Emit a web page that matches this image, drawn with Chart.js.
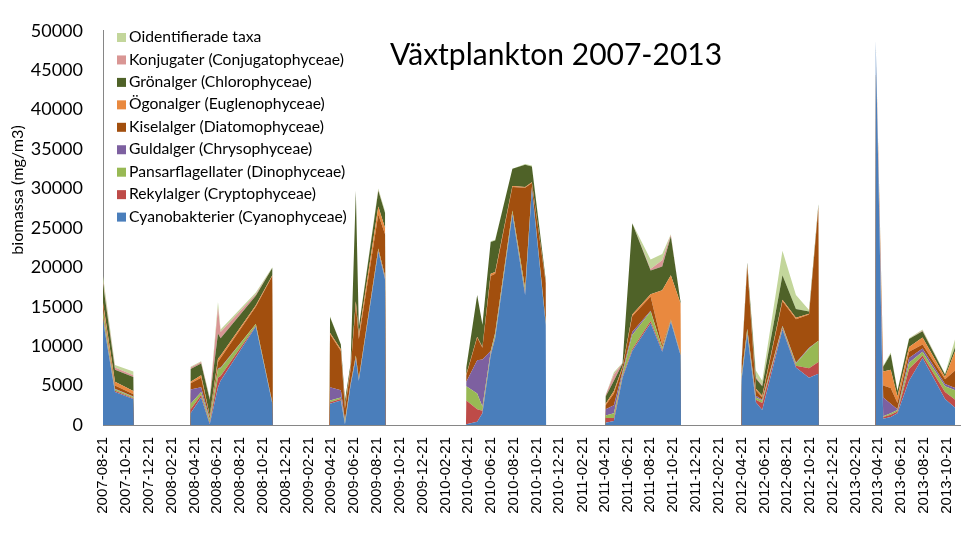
<!DOCTYPE html>
<html>
<head>
<meta charset="utf-8">
<script src="https://cdn.jsdelivr.net/npm/chart.js@4.4.0/dist/chart.umd.min.js"></script>
<style>
  html, body { margin: 0; padding: 0; background: #fff; }
</style>
</head>
<body>
<canvas id="chart" width="980" height="535"></canvas>
<script>
// sampling dates (zero rows close each season so the area drops to the baseline)
const sampleDates = [
  '2007-08-21','2007-09-22','2007-11-10','2007-11-11',
  '2008-04-10','2008-04-11','2008-05-09','2008-06-01','2008-06-23','2008-06-30','2008-10-02','2008-11-15','2008-11-16',
  '2009-04-17','2009-04-18','2009-05-17','2009-05-28','2009-06-12','2009-06-26','2009-07-04','2009-08-25','2009-09-12','2009-09-13',
  '2010-04-16','2010-04-17','2010-05-16','2010-05-30','2010-06-21','2010-07-03','2010-08-18','2010-09-21','2010-10-09','2010-11-15','2010-11-16',
  '2011-04-23','2011-04-24','2011-05-16','2011-06-08','2011-07-04','2011-08-22','2011-09-22','2011-10-15','2011-11-10','2011-11-11',
  '2012-04-20','2012-04-21','2012-05-06','2012-05-29','2012-06-15','2012-08-08','2012-09-13','2012-10-18','2012-11-12','2012-11-13',
  '2013-04-13','2013-04-14','2013-05-04','2013-05-24','2013-06-11','2013-07-12','2013-08-17','2013-10-16','2013-11-12'
];

// biomassa (mg/m3) per group, same order as sampleDates
const cyano = [
  13300,4200,3300,0,
  0,1500,3500,100,4800,5600,12500,2700,0,
  0,2700,3100,100,5000,8400,5600,22000,18500,0,
  0,100,400,1500,8800,11000,26700,16500,30000,12700,0,
  0,300,500,6000,9400,12900,9300,13100,8800,0,
  0,5800,11500,2900,1900,12100,7300,6000,6500,0,
  0,48800,800,1000,1500,5600,8500,3300,2200
];
const rekyl = [
  300,150,100,0,
  0,500,300,200,1200,600,100,100,0,
  0,200,200,100,100,200,150,200,200,0,
  0,3000,1600,300,200,200,200,300,100,100,0,
  0,600,400,200,200,300,200,100,100,0,
  0,200,200,300,900,200,200,1200,1500,0,
  0,100,200,300,200,1500,300,900,1000
];
const pansar = [
  800,200,150,0,
  0,700,400,400,1100,1000,200,100,0,
  0,200,200,300,100,200,150,200,200,0,
  0,1800,2000,500,300,400,300,500,100,200,0,
  0,300,600,300,1800,1200,300,100,100,0,
  0,300,400,300,300,200,300,2500,2700,0,
  0,100,100,200,200,800,500,700,1200
];
const guld = [
  100,50,50,0,
  0,1800,600,100,100,100,0,0,0,
  0,1700,900,100,50,0,0,0,0,0,
  0,600,4200,6000,100,100,0,0,0,0,0,
  0,800,1000,300,400,100,0,0,0,0,
  0,0,100,200,100,100,100,100,0,0,
  0,0,2400,1200,100,600,400,300,300
];
const kisel = [
  500,400,300,0,
  0,800,1200,300,800,1200,2200,16000,0,
  0,6700,5000,1500,1800,6500,5000,4300,5300,0,
  0,800,2900,1500,9500,7500,3000,12800,500,5000,0,
  0,500,1500,500,2000,1800,300,100,100,0,
  0,1500,7900,700,300,3100,5500,4200,16900,0,
  0,100,1500,2000,800,800,500,600,2200
];
const ogon = [
  500,500,400,0,
  0,200,300,100,400,300,200,100,0,
  0,200,200,300,200,400,500,1000,800,0,
  0,100,100,100,300,200,100,100,100,100,0,
  0,200,300,100,200,300,7000,5600,6300,0,
  0,100,200,200,200,200,200,100,100,0,
  0,0,1800,2300,800,600,900,300,2500
];
const gron = [
  2400,1500,1800,0,
  0,1600,1500,2000,3200,2200,1200,900,0,
  0,2000,600,700,500,14000,1000,2000,1900,0,
  0,900,5300,2800,4000,4000,2200,2800,2000,300,0,
  0,900,1300,400,11600,3000,3000,4900,200,0,
  0,200,300,1300,1200,3100,1100,300,300,0,
  0,0,600,2000,700,1000,800,300,500
];
const konj = [
  300,300,200,0,
  0,200,200,200,3300,800,200,0,0,
  0,0,0,0,0,0,0,100,0,0,
  0,0,0,0,0,0,0,0,0,0,0,
  0,200,800,50,0,200,800,200,0,0,
  0,0,0,200,100,0,0,0,0,0,
  0,0,0,0,0,0,100,0,0
];
const oid = [
  700,300,500,0,
  0,100,100,100,700,300,200,100,0,
  0,100,50,0,0,100,100,200,200,0,
  0,100,0,0,100,100,0,100,100,100,0,
  0,0,300,50,0,1200,800,100,0,0,
  0,0,0,800,600,3100,1800,200,100,0,
  0,100,100,200,100,100,100,100,1000
];

// bottom to top in the stack
const seriesNames = [
  'Cyanobakterier (Cyanophyceae)',
  'Rekylalger (Cryptophyceae)',
  'Pansarflagellater (Dinophyceae)',
  'Guldalger (Chrysophyceae)',
  'Kiselalger (Diatomophyceae)',
  'Ögonalger (Euglenophyceae)',
  'Grönalger (Chlorophyceae)',
  'Konjugater (Conjugatophyceae)',
  'Oidentifierade taxa'
];
const seriesColors = ['#4A7EBB','#BE4B48','#98B954','#7D60A0','#A24F0E','#E9893F','#4F6228','#D99694','#C3D69B'];
const seriesValues = [cyano, rekyl, pansar, guld, kisel, ogon, gron, konj, oid];

const chartTitle = 'Växtplankton 2007-2013';
const yTitle = 'biomassa (mg/m3)';

// x axis is days since the first sample
const DAY = 86400000;
const start = Date.UTC(2007, 7, 21);
function dayOf(s) {
  const p = s.split('-');
  return Math.round((Date.UTC(+p[0], +p[1] - 1, +p[2]) - start) / DAY);
}
function dateLabel(d) {
  return new Date(start + d * DAY).toISOString().slice(0, 10);
}
const xs = sampleDates.map(dayOf);

// one tick every second month, on the 21st (2007-08-21 .. 2013-10-21)
const tickDays = [];
for (let i = 0; i <= 37; i++) {
  tickDays.push(Math.round((Date.UTC(2007, 7 + 2 * i, 21) - start) / DAY));
}

const datasets = seriesValues.map((vals, i) => ({
  label: seriesNames[i],
  data: vals.map((v, j) => ({ x: xs[j], y: v })),
  backgroundColor: seriesColors[i],
  borderWidth: 0,
  pointRadius: 0,
  fill: i === 0 ? 'origin' : '-1',
  tension: 0
}));

// title, y axis title and legend are placed inside the plot like in the original
const overlay = {
  id: 'overlay',
  afterDraw(chart) {
    const ctx = chart.ctx;
    ctx.save();
    ctx.fillStyle = '#000';
    ctx.textBaseline = 'middle';

    ctx.font = '30px Lato';
    ctx.textAlign = 'center';
    ctx.fillText(chartTitle, 556, 55);

    ctx.save();
    ctx.translate(18, 190);
    ctx.rotate(-Math.PI / 2);
    ctx.font = '16.2px Lato';
    ctx.fillText(yTitle, 0, 0);
    ctx.restore();

    ctx.font = '15.7px Lato';
    ctx.textAlign = 'left';
    for (let k = 0; k < seriesNames.length; k++) {
      const i = seriesNames.length - 1 - k;
      const y = 37 + k * 22.45;
      ctx.fillStyle = seriesColors[i];
      ctx.fillRect(117, y - 4, 9, 9);
      ctx.fillStyle = '#000';
      ctx.fillText(seriesNames[i], 129, y);
    }
    ctx.restore();
  }
};

new Chart(document.getElementById('chart').getContext('2d'), {
  type: 'line',
  data: { datasets: datasets },
  options: {
    responsive: false,
    animation: false,
    layout: { padding: { left: 0, right: 20, top: 19, bottom: 0 } },
    plugins: {
      legend: { display: false },
      title: { display: false },
      tooltip: { enabled: false },
      filler: { propagate: false }
    },
    scales: {
      x: {
        type: 'linear',
        min: 0,
        max: dayOf('2013-11-25'),
        afterBuildTicks: axis => { axis.ticks = tickDays.map(v => ({ value: v })); },
        afterFit: s => { s.height = 110; },
        ticks: {
          autoSkip: false,
          minRotation: 90,
          maxRotation: 90,
          padding: 12,
          color: '#000',
          font: { family: 'Liberation Sans', size: 15 },
          callback: v => dateLabel(v)
        },
        grid: { display: false, drawTicks: false },
        border: { display: true, color: '#868686' }
      },
      y: {
        stacked: true,
        min: 0,
        max: 50000,
        afterFit: s => { s.width = 103; },
        ticks: {
          stepSize: 5000,
          padding: 20,
          color: '#000',
          font: { family: 'Lato', size: 18 },
          callback: v => String(v)
        },
        grid: { display: false, drawTicks: false },
        border: { display: true, color: '#868686' }
      }
    }
  },
  plugins: [overlay]
});
</script>
</body>
</html>
